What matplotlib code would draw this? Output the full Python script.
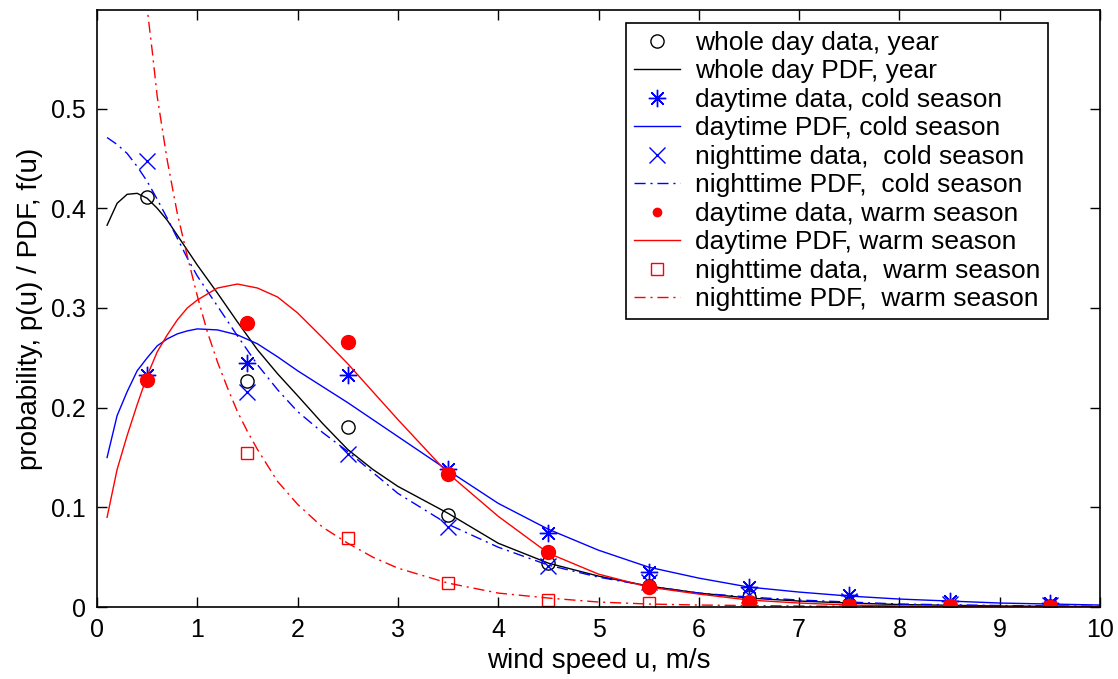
import numpy as np
import matplotlib
matplotlib.use("Agg")
from matplotlib import pyplot as plt

plt.rcParams['font.family'] = ['Liberation Sans', 'DejaVu Sans']

# measured bins (m/s)
u_bins = [0.5, 1.5, 2.5, 3.5, 4.5, 5.5, 6.5, 7.5, 8.5, 9.5]

whole_day_data = [0.411, 0.227, 0.181, 0.092, 0.044, 0.021, 0.010, 0.003, 0.0015, 0.0007]
day_cold_data = [0.233, 0.245, 0.233, 0.138, 0.074, 0.035, 0.020, 0.012, 0.006, 0.004]
night_cold_data = [0.447, 0.216, 0.154, 0.080, 0.041, 0.025, 0.012, 0.006, 0.003, 0.002]
day_warm_data = [0.228, 0.285, 0.266, 0.133, 0.055, 0.020, 0.005, 0.001, 0.001, 0.0005]
night_warm_data = [0.64, 0.155, 0.069, 0.024, 0.007, 0.004, 0.002, 0.001, 0.0005, 0.0002]

# fitted PDF curves
u_pdf = [0.1, 0.2, 0.3, 0.4, 0.5, 0.6, 0.7, 0.8, 0.9, 1.0, 1.2, 1.4, 1.6, 1.8, 2.0,
         2.25, 2.5, 2.75, 3.0, 3.5, 4.0, 4.5, 5.0, 5.5, 6.0, 6.5, 7.0, 7.5, 8.0, 9.0, 10.0]

whole_day_pdf = [0.383, 0.405, 0.414, 0.415, 0.410, 0.400, 0.388, 0.373, 0.358, 0.343,
                 0.315, 0.286, 0.258, 0.234, 0.212, 0.184, 0.158, 0.138, 0.121, 0.094,
                 0.064, 0.044, 0.031, 0.021, 0.014, 0.009, 0.006, 0.004, 0.0025, 0.001, 0.0004]
day_cold_pdf = [0.150, 0.192, 0.216, 0.237, 0.250, 0.262, 0.269, 0.274, 0.277, 0.279,
                0.278, 0.273, 0.264, 0.251, 0.237, 0.221, 0.205, 0.188, 0.171, 0.137,
                0.104, 0.078, 0.057, 0.040, 0.029, 0.020, 0.015, 0.011, 0.008, 0.004, 0.002]
night_cold_pdf = [0.471, 0.464, 0.455, 0.442, 0.427, 0.409, 0.390, 0.370, 0.350, 0.332,
                  0.302, 0.272, 0.243, 0.218, 0.196, 0.175, 0.156, 0.135, 0.114, 0.083,
                  0.060, 0.042, 0.030, 0.021, 0.014, 0.010, 0.007, 0.005, 0.003, 0.0015, 0.0007]
day_warm_pdf = [0.090, 0.138, 0.172, 0.203, 0.232, 0.256, 0.273, 0.288, 0.300, 0.308,
                0.320, 0.324, 0.320, 0.311, 0.295, 0.270, 0.244, 0.216, 0.188, 0.134,
                0.091, 0.054, 0.033, 0.020, 0.013, 0.007, 0.004, 0.002, 0.001, 0.0003, 0.0001]

u_pdf_nw = [0.45, 0.5, 0.55, 0.6, 0.7, 0.8, 0.9, 1.0, 1.1, 1.2, 1.3, 1.4, 1.5, 1.6, 1.8,
            2.0, 2.25, 2.5, 2.75, 3.0, 3.5, 4.0, 4.5, 5.0, 5.5, 6.0, 7.0, 8.0, 10.0]
night_warm_pdf = [0.640, 0.600, 0.558, 0.512, 0.448, 0.395, 0.352, 0.312, 0.276, 0.246,
                  0.220, 0.196, 0.176, 0.158, 0.126, 0.103, 0.080, 0.064, 0.050, 0.039,
                  0.024, 0.014, 0.009, 0.005, 0.003, 0.002, 0.001, 0.0004, 0.0001]

x_ticks = [0, 1, 2, 3, 4, 5, 6, 7, 8, 9, 10]
y_ticks = [0, 0.1, 0.2, 0.3, 0.4, 0.5]
y_tick_labels = ['0', '0.1', '0.2', '0.3', '0.4', '0.5']

dashdot = (0, (8, 3.5, 1.5, 3.5))

fig = plt.figure(figsize=(11.18, 6.79), dpi=100)
ax = fig.add_axes([0.0868, 0.106, 0.8971, 0.8794])

ax.plot(u_bins, whole_day_data, 'o', color='black', mfc='none', ms=9.5, mew=1,
        label='whole day data, year')
ax.plot(u_pdf, whole_day_pdf, '-', color='black', lw=1,
        label='whole day PDF, year')
ax.plot(u_bins, day_cold_data, linestyle='none', marker=(8, 2, 0), color='blue',
        ms=12.5, mew=1, label='daytime data, cold season')
ax.plot(u_pdf, day_cold_pdf, '-', color='blue', lw=1,
        label='daytime PDF, cold season')
ax.plot(u_bins, night_cold_data, 'x', color='blue', ms=11, mew=1,
        label='nighttime data,  cold season')
ax.plot(u_pdf, night_cold_pdf, color='blue', lw=1, linestyle=dashdot,
        label='nighttime PDF,  cold season')
ax.plot(u_bins, day_warm_data, 'o', color='red', ms=10, mec='red',
        label='daytime data, warm season')
ax.plot(u_pdf, day_warm_pdf, '-', color='red', lw=1,
        label='daytime PDF, warm season')
ax.plot(u_bins, night_warm_data, 's', color='red', mfc='none', ms=9, mew=1,
        label='nighttime data,  warm season')
ax.plot(u_pdf_nw, night_warm_pdf, color='red', lw=1, linestyle=dashdot,
        label='nighttime PDF,  warm season')

ax.set_xlim(0, 10)
ax.set_ylim(0, 0.599)
ax.set_xticks(x_ticks)
ax.set_yticks(y_ticks)
ax.set_yticklabels(y_tick_labels)
ax.tick_params(direction='in', top=True, right=True, length=7, width=1,
               labelsize=18, pad=8)
for s in ax.spines.values():
    s.set_linewidth(1.2)

ax.set_xlabel('wind speed u, m/s', fontsize=20, labelpad=4)
ax.set_ylabel('probability, p(u) / PDF, f(u)', fontsize=20, labelpad=6)

leg = ax.legend(loc='upper right', bbox_to_anchor=(0.948, 0.978), borderaxespad=0,
                fontsize=19, frameon=True, fancybox=False, framealpha=1,
                edgecolor='black', handlelength=1.75, handletextpad=0.55,
                borderpad=0.3, labelspacing=0.17, numpoints=1)
leg.get_frame().set_linewidth(1.2)
leg.legend_handles[6].set_markersize(6)

fig.savefig('out.png', dpi=100)
